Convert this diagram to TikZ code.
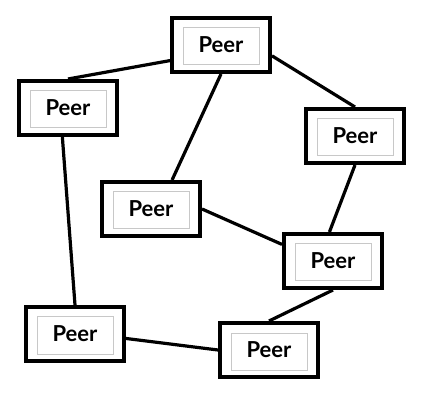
\documentclass[tikz,border=0pt]{standalone}
\usepackage{fontspec}
\setmainfont{Lato}
\usepackage{tikz}
\usetikzlibrary{calc}
\definecolor{peerInner}{RGB}{200,200,200}

\begin{document}
\begin{tikzpicture}[x=1pt, y=-1pt, font=\fontsize{22}{24}\selectfont\bfseries,
  peer/.style={draw, line width=4pt, minimum width=98pt, minimum height=54pt, inner sep=0pt,
    path picture={\draw[peerInner, line width=1pt]
      ($(path picture bounding box.south west)+(11pt,7pt)$) rectangle
      ($(path picture bounding box.north east)+(-11pt,-10pt)$);}},
  link/.style={line width=3.2pt}]
\useasboundingbox (0,0) rectangle (426,398);
\node[peer] (peerTop) at (221,45) {Peer};
\node[peer] (peerLeft) at (68,108) {Peer};
\node[peer] (peerRight) at (355,136) {Peer};
\node[peer] (peerMid) at (151,209) {Peer};
\node[peer] (peerLow) at (333,261) {Peer};
\node[peer] (peerCorner) at (75,334) {Peer};
\node[peer] (peerBottom) at (269,350) {Peer};
% links between peers
\draw[link] (peerTop.197) -- (peerLeft.north);
\draw[link] (peerTop.348) -- (peerRight.north);
\draw[link] (peerTop.south) -- (peerMid.54);
\draw[link] (peerLeft.259) -- (peerCorner.north);
\draw[link] (peerMid.east) -- (peerLow.162);
\draw[link] (peerRight.south) -- (peerLow.97);
\draw[link] (peerLow.south) -- (peerBottom.north);
\draw[link] (peerCorner.355) -- (peerBottom.west);
\end{tikzpicture}
\end{document}
